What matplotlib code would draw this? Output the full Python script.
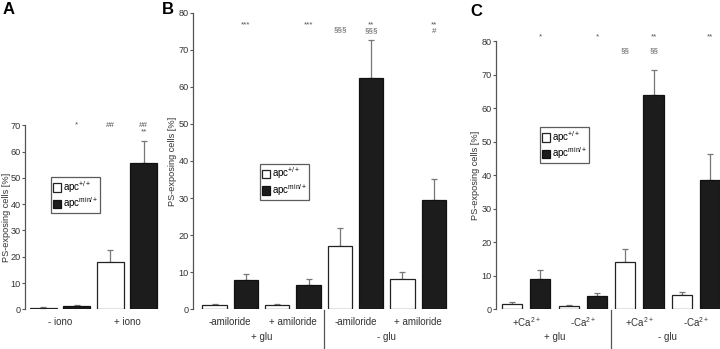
import matplotlib.pyplot as plt
import numpy as np

plt.rcParams['font.family'] = ['Liberation Sans', 'DejaVu Sans']
plt.rcParams['mathtext.fontset'] = 'custom'
plt.rcParams['mathtext.rm'] = 'Liberation Sans'
plt.rcParams['mathtext.it'] = 'Liberation Sans:italic'
plt.rcParams['mathtext.bf'] = 'Liberation Sans:bold'

# panel A
a_groups = ['- iono', '+ iono']
a_wt = [0.5, 18.0]
a_wt_err = [0.3, 4.6]
a_min = [1.3, 55.5]
a_min_err = [0.3, 8.6]
a_marks_wt = [['', ''], ['##', '']]
a_marks_min = [['*', ''], ['##', '**']]

# panel B
b_groups = ['-amiloride', '+ amiloride', '-amiloride', '+ amiloride']
b_super = ['+ glu', '- glu']
b_wt = [1.2, 1.1, 17.2, 8.1]
b_wt_err = [0.3, 0.3, 4.6, 1.9]
b_min = [7.8, 6.5, 62.5, 29.5]
b_min_err = [1.6, 1.8, 10.1, 5.6]
b_marks_wt = [['', ''], ['', ''], ['', '§§§'], ['', '']]
b_marks_min = [['***', ''], ['***', ''], ['**', '§§§'], ['**', '#']]

# panel C
c_groups = ['+Ca$^{2+}$', '-Ca$^{2+}$', '+Ca$^{2+}$', '-Ca$^{2+}$']
c_super = ['+ glu', '- glu']
c_wt = [1.5, 0.9, 14.2, 4.3]
c_wt_err = [0.7, 0.4, 3.8, 0.8]
c_min = [9.1, 4.0, 64.0, 38.6]
c_min_err = [2.7, 1.0, 7.5, 7.8]
c_marks_wt = [['', ''], ['', ''], ['', '§§'], ['', '']]
c_marks_min = [['*', ''], ['*', ''], ['**', '§§'], ['**', '']]

legend_labels = ['apc$^{+/+}$', 'apc$^{\\mathrm{min/+}}$']

TXT = '#333333'
GREY = '#777777'
FS = 7


def ax_h_px(ax):
    return ax.get_position().height * 349


def draw_panel(ax, wt, wt_err, mn, mn_err, width, ymax, step):
    n = len(wt)
    x = np.arange(2 * n)
    xw = x[0::2]
    xm = x[1::2]
    ax.bar(xw, wt, width, color='white', edgecolor='#222222', linewidth=0.9,
           label=legend_labels[0], zorder=2)
    ax.bar(xm, mn, width, color='#1c1c1c', edgecolor='#111111', linewidth=0.9,
           label=legend_labels[1], zorder=2)
    ax.errorbar(xw, wt, yerr=[np.zeros(n), wt_err], fmt='none', ecolor=GREY,
                elinewidth=0.9, capsize=2.2, capthick=0.9, zorder=1)
    ax.errorbar(xm, mn, yerr=[np.zeros(n), mn_err], fmt='none', ecolor=GREY,
                elinewidth=0.9, capsize=2.2, capthick=0.9, zorder=1)
    ax.set_ylim(0, ymax)
    ax.set_yticks(np.arange(0, ymax + 1, step))
    for s in ['top', 'right', 'bottom']:
        ax.spines[s].set_visible(False)
    ax.spines['left'].set_color('#555555')
    ax.spines['left'].set_linewidth(0.9)
    ax.tick_params(axis='y', direction='out', length=2.2, width=0.8,
                   colors='#555555', labelcolor=TXT, labelsize=6.6, pad=0.8)
    ax.tick_params(axis='x', length=0)
    ax.set_ylabel('PS-exposing cells [%]', fontsize=6.6, color=TXT, labelpad=1)
    return xw, xm


def put_marks(ax, xs, marks, ys):
    h = ax_h_px(ax)
    for xi, mk in zip(xs, marks):
        for txt, yy in zip(mk, ys):
            if txt:
                ax.text(xi, 1 - yy / h, txt, transform=ax.get_xaxis_transform(),
                        ha='center', va='center', fontsize=5.8, color='#555555',
                        clip_on=False)


def group_labels(ax, groups, supers, sep_pos):
    h = ax_h_px(ax)
    xcs = np.arange(len(groups)) * 2 + 0.5
    tr = ax.get_xaxis_transform()
    for xc, g in zip(xcs, groups):
        ax.text(xc, -13.0 / h, g, transform=tr, ha='center',
                va='center', fontsize=FS, color=TXT)
    ax.set_xticks([])
    if supers:
        for k, s in enumerate(supers):
            xc = 4 * k + 1.5
            ax.text(xc, -27.5 / h, s, transform=tr, ha='center',
                    va='center', fontsize=FS, color=TXT)
        ax.plot([sep_pos, sep_pos], [-1.0 / h, -40.0 / h],
                transform=tr, color='#555555', lw=0.9, clip_on=False)


def add_legend(ax, xpx, ypx, wpx):
    h = ax_h_px(ax)
    leg = ax.legend(loc='upper left', bbox_to_anchor=(xpx / wpx, 1 - ypx / h),
                    fontsize=FS, frameon=True, fancybox=False, edgecolor='#333333',
                    handlelength=0.85, handleheight=1.0, handletextpad=0.15,
                    borderpad=0.2, labelspacing=0.05, borderaxespad=0)
    leg.get_frame().set_linewidth(0.9)


def main():
    fig = plt.figure(figsize=(7.2, 3.49), dpi=100)

    # panel A
    axA = fig.add_axes([25 / 720, 1 - 309.3 / 349, 137 / 720, 184 / 349])
    xw, xm = draw_panel(axA, a_wt, a_wt_err, a_min, a_min_err, 0.8, 70, 10)
    axA.set_xlim(-0.55, 3.55)
    axA.yaxis.set_label_coords((11.0 - 25) / 137, 0.5)
    group_labels(axA, a_groups, None, None)
    put_marks(axA, xw, a_marks_wt, [0, 6.5])
    put_marks(axA, xm, a_marks_min, [0, 6.5])
    add_legend(axA, 26, 52, 137)

    # panel B
    axB = fig.add_axes([193 / 720, 1 - 309.3 / 349, 258 / 720, 296.6 / 349])
    xw, xm = draw_panel(axB, b_wt, b_wt_err, b_min, b_min_err, 0.78, 80, 10)
    axB.set_xlim(-0.69, 7.55)
    group_labels(axB, b_groups, b_super, 3.5)
    put_marks(axB, xw, b_marks_wt, [12, 17.5])
    put_marks(axB, xm, b_marks_min, [12, 18.5])
    add_legend(axB, 67, 151, 258)

    # panel C
    axC = fig.add_axes([496 / 720, 1 - 309.3 / 349, 224 / 720, 268 / 349])
    xw, xm = draw_panel(axC, c_wt, c_wt_err, c_min, c_min_err, 0.71, 80, 10)
    axC.set_xlim(-0.57, 7.35)
    group_labels(axC, c_groups, c_super, 3.5)
    put_marks(axC, xw, c_marks_wt, [-4, 9])
    put_marks(axC, xm, c_marks_min, [-4, 9])
    add_legend(axC, 44, 86, 224)

    fig.text(3 / 720, 1 - 9 / 349, 'A', fontsize=12, fontweight='bold', va='center')
    fig.text(162 / 720, 1 - 9 / 349, 'B', fontsize=12, fontweight='bold', va='center')
    fig.text(470 / 720, 1 - 12 / 349, 'C', fontsize=12, fontweight='bold', va='center')

    fig.savefig('out.png', dpi=100)


if __name__ == '__main__':

    main()
